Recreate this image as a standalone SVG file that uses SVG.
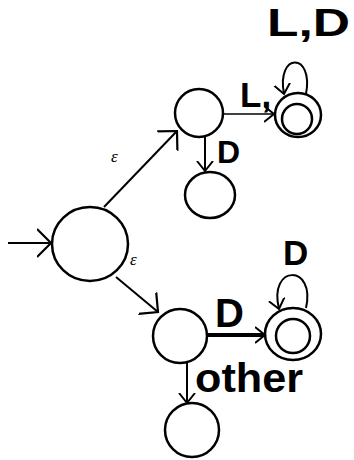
<svg xmlns="http://www.w3.org/2000/svg" width="354" height="460" viewBox="0 0 354 460">
<defs>
<style>
.st{fill:none;stroke:#000;stroke-width:2.5}
.ed{fill:none;stroke:#000;stroke-width:2}
.lb{font-family:"Liberation Sans",Arial,sans-serif;font-weight:bold;fill:#000}
.ep{font-family:"Liberation Serif",serif;font-style:italic;font-size:17px;fill:#000}
</style>
<marker id="big" markerUnits="userSpaceOnUse" markerWidth="24" markerHeight="34" refX="14" refY="17" orient="auto">
<path d="M0,3 L14,17 L0,31" fill="none" stroke="#000" stroke-width="2.2"/>
</marker>
<marker id="sm" markerUnits="userSpaceOnUse" markerWidth="16" markerHeight="20" refX="10" refY="10" orient="auto">
<path d="M0,2 L10,10 L0,18" fill="none" stroke="#000" stroke-width="2"/>
</marker>
</defs>
<rect width="354" height="460" fill="#fff"/>
<g id="connectors">
<path class="ed" d="M8,243 L51,243" marker-end="url(#big)"/>
<path class="ed" d="M104,207 L177,131" marker-end="url(#big)"/>
<path class="ed" d="M116,277 L158,312" marker-end="url(#big)"/>
<path class="ed" style="stroke-width:1.5" d="M223,114 L274,114" marker-end="url(#sm)"/>
<path class="ed" d="M205,136 L205,171" marker-end="url(#sm)"/>
<path class="ed" style="stroke-width:4" d="M207,335 L265,335" marker-end="url(#sm)"/>
<path class="ed" d="M187,363 L187,403" marker-end="url(#sm)"/>
<path class="ed" d="M306,94 C314,52 276,52 284,94" marker-end="url(#sm)"/>
<path class="ed" d="M306,308 C316,264 268,264 279,309" marker-end="url(#sm)"/>
</g>
<g id="labels">
<text class="ep" x="111" y="162">ε</text>
<text class="ep" x="130" y="265">ε</text>
<text class="lb" x="267" y="36" font-size="39" textLength="83" lengthAdjust="spacingAndGlyphs">L,D</text>
<text class="lb" x="240" y="107" font-size="35">L,</text>
<text class="lb" x="217" y="163" font-size="32">D</text>
<text class="lb" x="215" y="327" font-size="40">D</text>
<text class="lb" x="283" y="265" font-size="35">D</text>
<text class="lb" x="195" y="392" font-size="40" textLength="108" lengthAdjust="spacingAndGlyphs">other</text>
</g>
<g id="s0"><ellipse class="st" cx="90" cy="244" rx="38" ry="37"/></g>
<g id="s1"><circle class="st" cx="199" cy="113" r="24"/></g>
<g id="s2"><ellipse class="st" cx="298" cy="115" rx="23" ry="22"/><circle class="st" cx="297" cy="119" r="15"/></g>
<g id="s3"><ellipse class="st" cx="210" cy="195" rx="25" ry="23"/></g>
<g id="s4"><circle class="st" cx="180" cy="336" r="27"/></g>
<g id="s5"><ellipse class="st" cx="293" cy="334" rx="28" ry="26"/><circle class="st" cx="293" cy="336" r="17"/></g>
<g id="s6"><circle class="st" cx="192" cy="430" r="27"/></g>
</svg>
